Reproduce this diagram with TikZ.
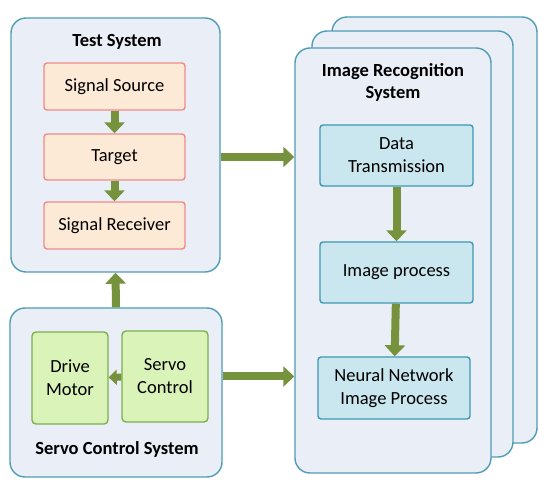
\documentclass[tikz,border=0pt]{standalone}
\usepackage{fontspec}
\setmainfont{Carlito}
\usetikzlibrary{arrows.meta}
\definecolor{outfill}{HTML}{EAEFF7}
\definecolor{outdraw}{HTML}{4E9DB4}
\definecolor{orfill}{HTML}{FDEAD6}
\definecolor{ordraw}{HTML}{F08A8A}
\definecolor{grfill}{HTML}{D9F3B9}
\definecolor{grdraw}{HTML}{7EAE4E}
\definecolor{blfill}{HTML}{CAE6EF}
\definecolor{bldraw}{HTML}{3E98B2}
\definecolor{arr}{HTML}{76923C}
\tikzset{
  outer/.style={draw=outdraw, fill=outfill, line width=1.4pt, rounded corners=15pt, inner sep=0pt},
  orbox/.style={draw=ordraw, fill=orfill, line width=1.4pt, rounded corners=3pt, align=center, inner sep=0pt, font=\fontsize{18.5}{23}\selectfont},
  grbox/.style={draw=grdraw, fill=grfill, line width=1.4pt, rounded corners=4pt, align=center, inner sep=0pt, font=\fontsize{18.5}{23}\selectfont},
  blbox/.style={draw=bldraw, fill=blfill, line width=1.4pt, rounded corners=3pt, align=center, inner sep=0pt, font=\fontsize{18.5}{23}\selectfont},
  ttl/.style={font=\fontsize{18.5}{22}\selectfont\bfseries, align=center, inner sep=0pt},
  bigarrow/.style={draw=arr, line width=8pt, -{Triangle[width=20pt,length=11pt]}},
  smallarrow/.style={draw=arr, line width=7pt, -{Triangle[width=15pt,length=8pt]}}
}
\begin{document}
\begin{tikzpicture}[x=1pt,y=-1pt]
\useasboundingbox (0,0) rectangle (550,486);
% Test system
\node[outer, minimum width=209pt, minimum height=254pt] (test) at (115.5,145) {};
\node[ttl] (testttl) at (117,42) {Test System};
\node[orbox, minimum width=141pt, minimum height=47pt] (src) at (114.5,86.5) {Signal Source};
\node[orbox, minimum width=141pt, minimum height=46pt] (tgt) at (114.5,157) {Target};
\node[orbox, minimum width=141pt, minimum height=47pt] (rcv) at (114.5,225.5) {Signal Receiver};
% Servo system
\node[outer, minimum width=212pt, minimum height=169pt] (servo) at (116,392.5) {};
\node[grbox, minimum width=76pt, minimum height=92pt] (dm) at (70,378) {Drive\\Motor};
\node[grbox, minimum width=86pt, minimum height=91pt] (sc) at (165,376.5) {Servo\\Control};
\node[ttl] (servottl) at (117,449) {Servo Control System};
% Image recognition stack
\node[outer, minimum width=205pt, minimum height=426pt] (back) at (434.5,230) {};
\node[outer, minimum width=201pt, minimum height=426pt] (mid) at (412.5,244) {};
\node[outer, minimum width=196pt, minimum height=425pt] (front) at (393,260.5) {};
\node[ttl] (irttl) at (393,82) {Image Recognition\\System};
\node[blbox, minimum width=153pt, minimum height=61pt] (dt) at (396.5,155.5) {Data\\Transmission};
\node[blbox, minimum width=153pt, minimum height=61pt] (ip) at (396.5,272.5) {Image process};
\node[blbox, minimum width=152pt, minimum height=62pt] (nn) at (394,388) {Neural Network\\Image Process};
% arrows
\draw[bigarrow] (src) -- (tgt);
\draw[bigarrow] (tgt) -- (rcv);
\draw[bigarrow] (servo.north) -- (test.south);
\draw[smallarrow] (sc) -- (dm);
\draw[bigarrow] (test.east |- tgt) -- (front.west |- tgt);
\draw[bigarrow] (servo.east |- sc) -- (front.west |- sc);
\draw[bigarrow] (dt) -- (ip);
\draw[bigarrow] (ip) -- (nn);
\end{tikzpicture}
\end{document}
